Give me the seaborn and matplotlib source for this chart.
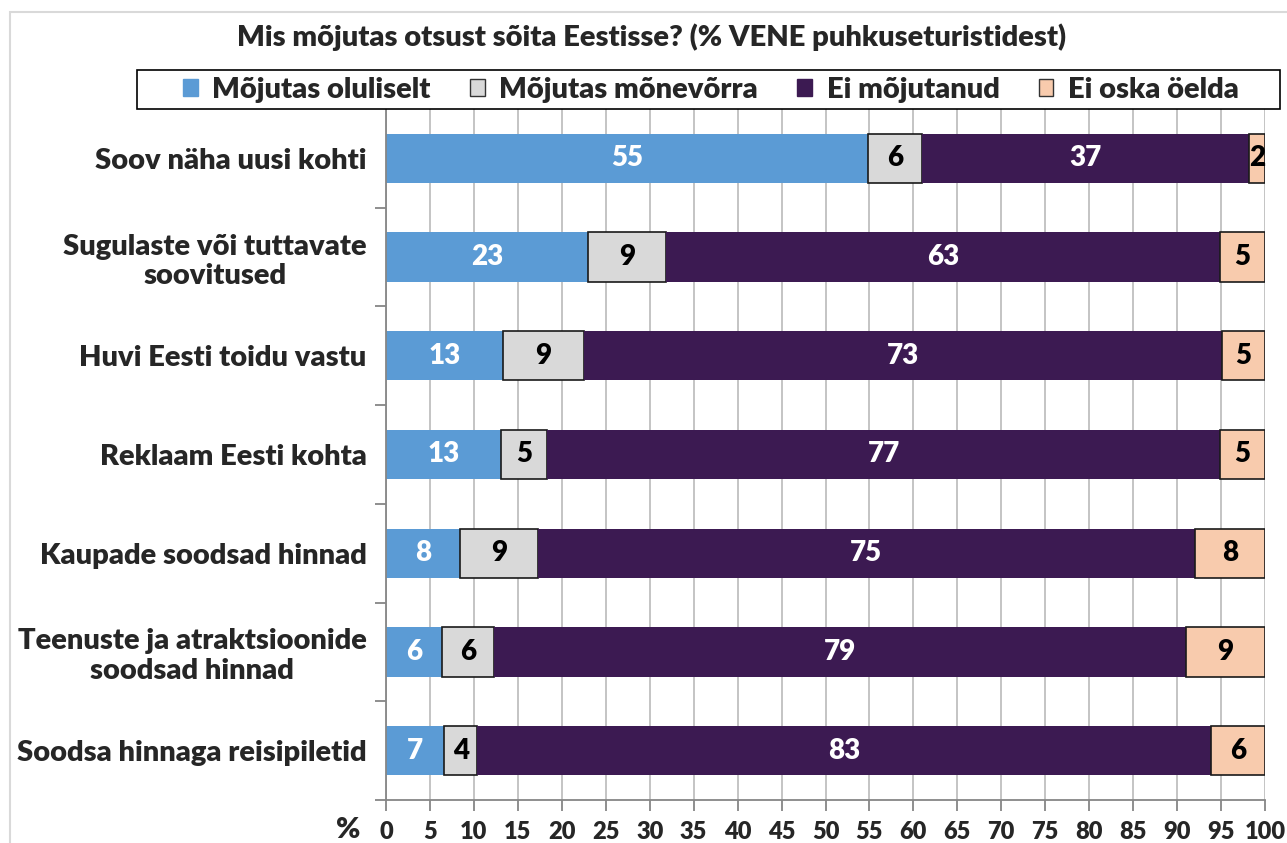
import matplotlib
matplotlib.use("Agg")
import matplotlib.pyplot as plt
import seaborn as sns
import pandas as pd
import numpy as np
from matplotlib.patches import Patch, Rectangle

title = "Mis mõjutas otsust sõita Eestisse? (% VENE puhkuseturistidest)"
categories = [
    "Soov näha uusi kohti",
    "Sugulaste või tuttavate\nsoovitused",
    "Huvi Eesti toidu vastu",
    "Reklaam Eesti kohta",
    "Kaupade soodsad hinnad",
    "Teenuste ja atraktsioonide\nsoodsad hinnad",
    "Soodsa hinnaga reisipiletid",
]
series_names = ["Mõjutas oluliselt", "Mõjutas mõnevõrra", "Ei mõjutanud", "Ei oska öelda"]
v_oluliselt = [54.8, 23.0, 13.3, 13.1, 8.4, 6.4, 6.6]
v_monevorra = [6.2, 8.8, 9.2, 5.2, 8.9, 5.9, 3.8]
v_ei_mojutanud = [37.2, 63.1, 72.6, 76.6, 74.7, 78.7, 83.4]
v_ei_oska = [1.8, 5.1, 4.9, 5.1, 8.0, 9.0, 6.2]
xticks = list(range(0, 101, 5))

colors = ["#5B9BD5", "#D9D9D9", "#3C1A52", "#F8CBAD"]
label_colors = ["white", "black", "white", "black"]
edge_colors = ["none", "#1a1a1a", "none", "#1a1a1a"]

WEIGHT = "heavy"
sns.set_theme(style="white")
plt.rcParams['font.family'] = ['Lato', 'DejaVu Sans']
plt.rcParams['font.weight'] = WEIGHT

W, H = 1287, 843
fig = plt.figure(figsize=(W / 100, H / 100), dpi=100)
ax = fig.add_axes([386 / W, 1 - 800 / H, (1265 - 386) / W, (800 - 109) / H])

all_series = [v_oluliselt, v_monevorra, v_ei_mojutanud, v_ei_oska]
left = np.zeros(len(categories))
for name, vals, col, ec, lc in zip(series_names, all_series, colors, edge_colors, label_colors):
    df = pd.DataFrame({"cat": categories, "val": vals})
    sns.barplot(data=df, x="val", y="cat", orient="y", color=col, width=0.5,
                saturation=1, errorbar=None, edgecolor=ec, linewidth=1.2, ax=ax)
    cont = ax.containers[-1]
    for bar, l in zip(cont, left):
        bar.set_x(l)
    ax.bar_label(cont, labels=[f"{v:.0f}" for v in vals], label_type="center",
                 color=lc, fontsize=20, fontweight=WEIGHT)
    left += np.array(vals)

ax.set_xlim(0, 100)
ax.set_ylim(6.5, -0.5)
ax.set_xticks(xticks)
ax.set_xlabel("")
ax.set_ylabel("")
ax.xaxis.grid(True, color="#BFBFBF", linewidth=1.3)
ax.yaxis.grid(False)
ax.set_axisbelow(True)
for s in ["top", "right"]:
    ax.spines[s].set_visible(False)
for s in ["left", "bottom"]:
    ax.spines[s].set_color("#868686")
    ax.spines[s].set_linewidth(1.3)

ax.tick_params(axis="x", bottom=True, direction="out", length=8, width=1.3,
               color="#868686", labelsize=17, pad=7)
ax.tick_params(axis="y", which="major", left=False, length=0, labelsize=21, pad=14)
ax.set_yticks([i + 0.5 for i in range(len(categories))], minor=True)
ax.tick_params(axis="y", which="minor", left=True, direction="out", length=8,
               width=1.3, color="#868686")
for lbl in ax.get_yticklabels():
    lbl.set_multialignment("center")
    lbl.set_linespacing(1.15)
    lbl.set_fontweight(WEIGHT)
for lbl in ax.get_xticklabels():
    lbl.set_fontweight(WEIGHT)

fig.text(348 / W, 1 - 830 / H, "%", ha="center", va="center", fontsize=21, fontweight=WEIGHT)
fig.text(652 / W, 1 - 37 / H, title, ha="center", va="center", fontsize=21, fontweight=WEIGHT)

# legend box
fig.patches.append(Rectangle((137 / W, 1 - 109 / H), (1280 - 137) / W, 39 / H,
                             transform=fig.transFigure, fill=True, facecolor="white",
                             edgecolor="black", linewidth=1.2, zorder=0))
handles = [Patch(facecolor=c, edgecolor=("#333333" if e != "none" else c)) for c, e in zip(colors, edge_colors)]
leg = fig.legend(handles, series_names, loc="center",
                 bbox_to_anchor=(711 / W, 1 - 90 / H),
                 ncol=4, frameon=False, borderaxespad=0, handlelength=0.5,
                 handleheight=0.5, handletextpad=0.5, columnspacing=1.35, borderpad=0,
                 prop={"size": 21, "weight": WEIGHT})

fig.patches.append(Rectangle((10 / W, -0.05), 1.0, (H - 12) / H + 0.05,
                             transform=fig.transFigure, fill=False,
                             edgecolor="#D9D9D9", linewidth=1.5))

fig.savefig("out.png", dpi=100)
